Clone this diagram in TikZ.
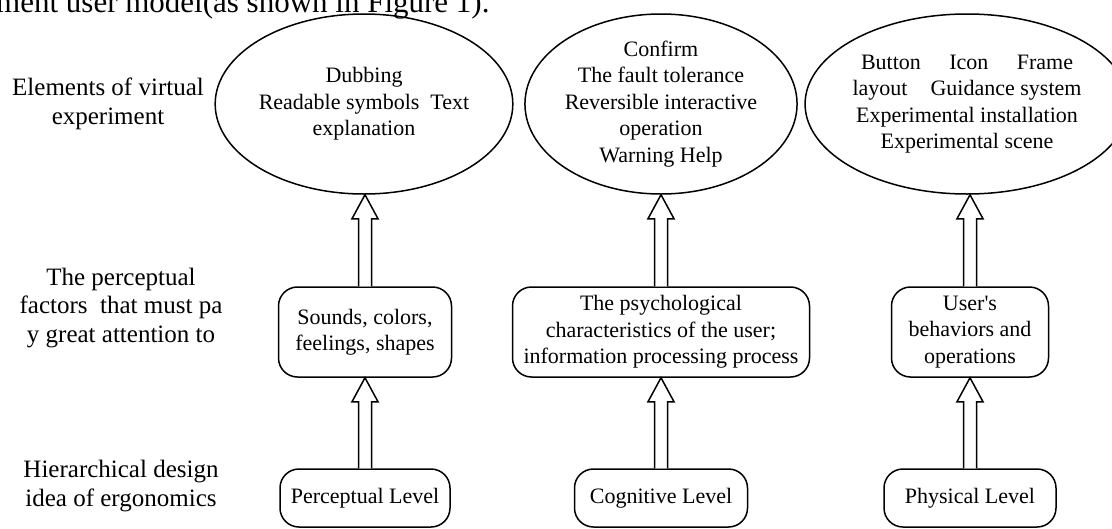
\documentclass[tikz,border=0pt]{standalone}
\usepackage{fontspec}
\setmainfont{Liberation Serif}
\usetikzlibrary{shapes.geometric,calc}
\tikzset{
  elem/.style={draw, line width=1.5pt, ellipse, inner sep=0pt, align=center,
    font=\fontsize{22}{26.5}\selectfont},
  rbox/.style={draw, line width=1.5pt, rounded corners=19pt, inner sep=2pt, align=center,
    font=\fontsize{22}{26.5}\selectfont},
  sidelabel/.style={align=center, inner sep=0pt, font=\fontsize{25}{28.5}\selectfont},
  blockarrow/.style={draw, line width=1.5pt, line join=miter, fill=white},
}
\newcommand\hollowup[2]{%
  \draw[blockarrow] let \p1=(#1.north), \p2=(#2.south) in
    (\x1-6.5,\y1) -- (\x1-6.5,\y2-24) -- (\x1-13,\y2-24) -- (\x1,\y2)
    -- (\x1+13,\y2-24) -- (\x1+6.5,\y2-24) -- (\x1+6.5,\y1);
}
\newcommand\straightquote{\XeTeXglyph\XeTeXcharglyph"27\relax}
\begin{document}
\begin{tikzpicture}[x=1pt,y=-1pt]
\clip (0,0) rectangle (1112,528);
\fill[white] (0,0) rectangle (1112,528);
% cut-off line of running text
\node[anchor=base west, inner sep=0pt, font=\fontsize{31}{35}\selectfont] (top) at (-4,12)
  {ment user model(as shown in Figure 1).};
% side labels
\node[sidelabel] (l1) at (108,104) {Elements of virtual\\experiment};
\node[sidelabel] (l2) at (121,308) {The perceptual\\factors~ that must pa\\y great attention to};
\node[sidelabel] (l3) at (121,486) {Hierarchical design\\idea of ergonomics};
% ellipses
\node[elem, minimum width=271pt, minimum height=180pt] (e1) at (364,104)
  {Dubbing\\Readable symbols~ Text\\explanation};
\node[elem, minimum width=270pt, minimum height=180pt] (e2) at (661,104)
  {Confirm\\The fault tolerance\\Reversible interactive\\operation\\Warning Help};
\node[elem, minimum width=289pt, minimum height=180pt] (e3) at (967,104)
  {\makebox[212pt][s]{Button Icon Frame}\\\makebox[229pt]{layout\hfill Guidance system}\\Experimental installation\\Experimental scene};
% middle boxes
\node[rbox, minimum width=173pt, minimum height=90pt] (m1) at (365,332)
  {Sounds, colors,\\feelings, shapes};
\node[rbox, minimum width=297pt, minimum height=90pt] (m2) at (661,332)
  {The psychological\\characteristics of the user;\\information processing process};
\node[rbox, minimum width=157pt, minimum height=90pt] (m3) at (970,332)
  {User\straightquote s\\behaviors and\\operations};
% bottom boxes
\node[rbox, minimum width=170pt, minimum height=58pt] (b1) at (365,498) {Perceptual Level};
\node[rbox, minimum width=173pt, minimum height=58pt] (b2) at (661,498) {Cognitive Level};
\node[rbox, minimum width=172pt, minimum height=58pt] (b3) at (970,498) {Physical Level};
% block arrows
\hollowup{m1}{e1}
\hollowup{m2}{e2}
\hollowup{m3}{e3}
\hollowup{b1}{m1}
\hollowup{b2}{m2}
\hollowup{b3}{m3}
\end{tikzpicture}
\end{document}
